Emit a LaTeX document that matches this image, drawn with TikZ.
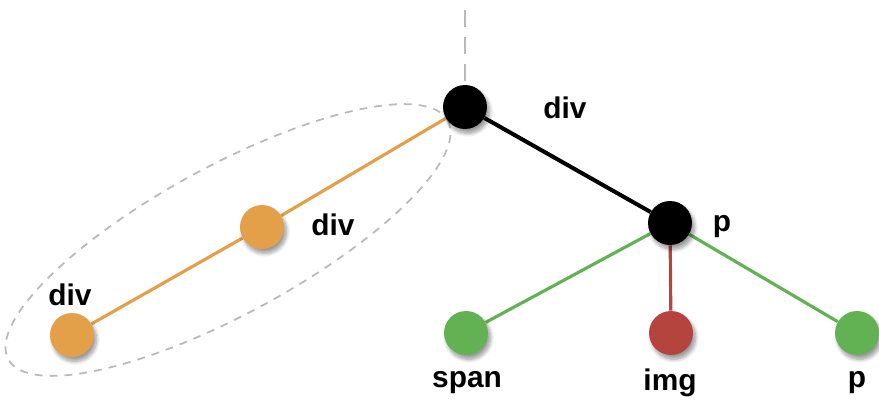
\documentclass[tikz,border=0pt]{standalone}
\usepackage{fontspec}
\setmainfont{Liberation Sans}
\usepackage{xcolor}
\usetikzlibrary{positioning, backgrounds, shadows.blur}

\definecolor{domorange}{RGB}{228,160,72}
\definecolor{domgreen}{RGB}{98,178,84}
\definecolor{domred}{RGB}{181,68,62}

\begin{document}
\begin{tikzpicture}[
  x=0.02cm, y=-0.02cm,
  dot/.style={
    circle,
    fill=#1,
    minimum size=0.88cm,
    inner sep=0pt,
    blur shadow={shadow xshift=1.5pt, shadow yshift=-2.5pt, shadow blur steps=8, shadow opacity=40}
  },
  tag/.style={font=\bfseries\fontsize{17}{18}\selectfont},
  branch/.style={draw=#1, line width=1.8pt},
  guide/.style={draw=gray!55, line width=1pt, dash pattern=on 4.5pt off 4pt}
]
  \useasboundingbox (0,0) rectangle (879,408);

  % tree nodes
  \node[dot=black] (root) at (465,107) {};
  \node[dot=black] (para) at (670,223) {};
  \node[dot=domorange] (inner) at (262,227) {};
  \node[dot=domorange] (leaf) at (72,335) {};
  \node[dot=domgreen] (span) at (466,333) {};
  \node[dot=domred] (img) at (671,333) {};
  \node[dot=domgreen] (last) at (857,333) {};
  \coordinate (parent) at (465,10);

  % labels
  \node[tag] (rootname) at (565,108) {div};
  \node[tag] (innername) at (333,225) {div};
  \node[tag] (leafname) at (70,295) {div};
  \node[tag] (paraname) at (722,227) {p};
  \node[tag] (spanname) at (467,383) {span};
  \node[tag] (imgname) at (670,383) {img};
  \node[tag] (lastname) at (857,383) {p};

  % edges go under the dots
  \begin{scope}[on background layer]
    \draw[guide, line width=1.4pt, dash pattern=on 9.5pt off 6pt] (parent) -- (root);
    \draw[guide, rotate around={28.5:(228,240)}] (228,240) ellipse [x radius=250, y radius=74];
    \draw[branch=black, line width=2.3pt] (root) -- (para);
    \draw[branch=domorange] (root) -- (inner) -- (leaf);
    \draw[branch=domgreen] (para) -- (span);
    \draw[branch=domred] (para) -- (img);
    \draw[branch=domgreen] (para) -- (last);
  \end{scope}
\end{tikzpicture}
\end{document}
